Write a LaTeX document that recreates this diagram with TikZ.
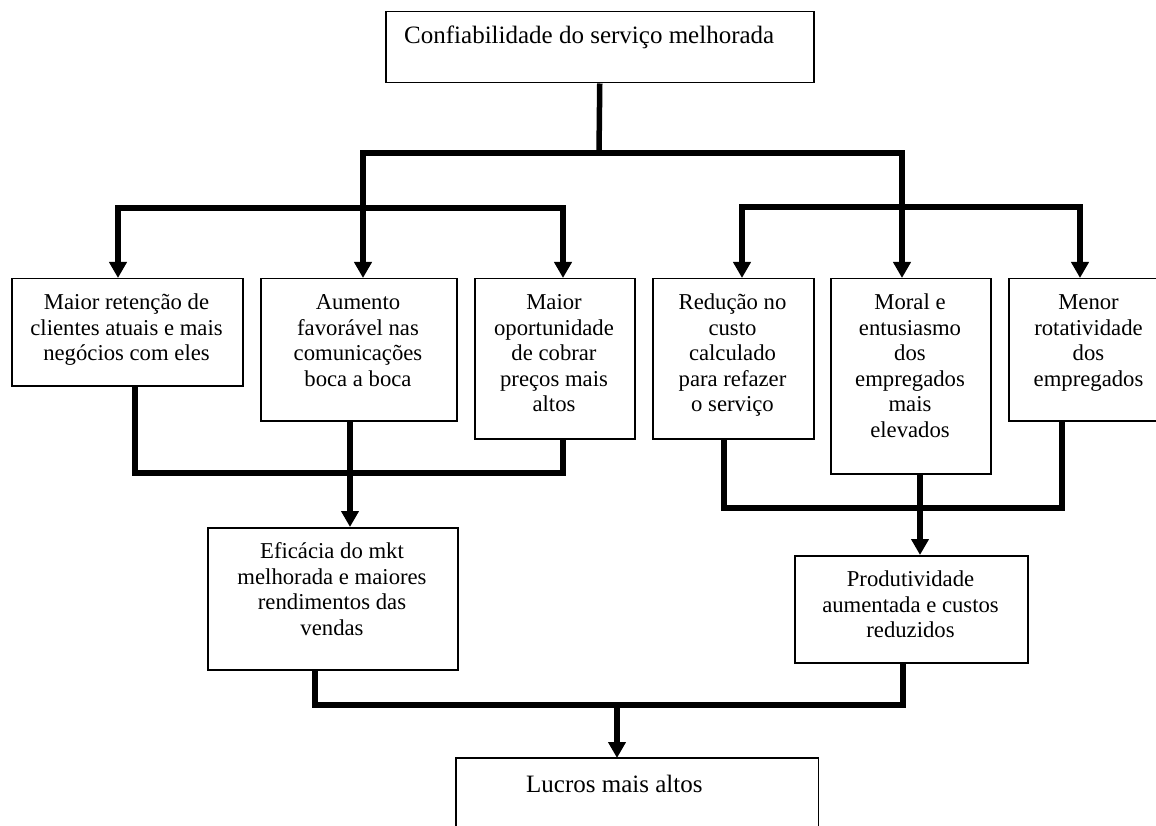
\documentclass[tikz,border=0pt]{standalone}
\usepackage{fontspec}
\setmainfont{Liberation Serif}
\usetikzlibrary{arrows.meta}
\begin{document}
\begin{tikzpicture}[x=1pt,y=-1pt,
  box/.style={draw, line width=1.5pt, inner sep=0pt, anchor=north west},
  openbox/.style={inner sep=0pt, anchor=north west},
  txt/.style={font=\fontsize{22.7}{25.5}\selectfont, align=center, inner sep=0pt, anchor=north},
  bigtxt/.style={font=\fontsize{25}{28}\selectfont, inner sep=0pt, anchor=base west},
  conn/.style={line width=5.5pt, line join=miter},
  arr/.style={conn, -{Triangle[width=17pt,length=16pt]}},
  darr/.style={conn, {Triangle[width=17pt,length=16pt]}-{Triangle[width=17pt,length=16pt]}}
]
\useasboundingbox (0,0) rectangle (1156,826);
\fill[white] (0,0) rectangle (1156,826);

% top box
\node[box, minimum width=428pt, minimum height=71pt] (T) at (385,11) {};
\node[bigtxt] (Tt) at (404,44) {Confiabilidade do serviço melhorada};

% row of boxes
\node[box, minimum width=231pt, minimum height=107pt] (B1) at (11,278) {};
\node[box, minimum width=196pt, minimum height=142pt] (B2) at (260,278) {};
\node[box, minimum width=160pt, minimum height=160pt] (B3) at (474,278) {};
\node[box, minimum width=161pt, minimum height=160pt] (B4) at (652,278) {};
\node[box, minimum width=160pt, minimum height=195pt] (B5) at (830,278) {};
\node[box, minimum width=162pt, minimum height=142pt] (B6) at (1008,278) {};

\node[txt] (B1t) at (126.5,291.5) {\strut Maior retenção de\\clientes atuais e mais\\negócios com eles};
\node[txt] (B2t) at (358,291.5) {\strut Aumento\\favorável nas\\comunicações\\boca a boca};
\node[txt] (B3t) at (554,291.5) {\strut Maior\\oportunidade\\de cobrar\\preços mais\\altos};
\node[txt] (B4t) at (732.5,291.5) {\strut Redução no\\custo\\calculado\\para refazer\\o serviço};
\node[txt] (B5t) at (910,291.5) {\strut Moral e\\entusiasmo\\dos\\empregados\\mais\\elevados};
\node[txt] (B6t) at (1088.5,291.5) {\strut Menor\\rotatividade\\dos\\empregados};

% second level
\node[box, minimum width=250pt, minimum height=142pt] (E) at (207,527) {};
\node[txt] (Et) at (332,540.5) {\strut Eficácia do mkt\\melhorada e maiores\\rendimentos das\\vendas};
\node[box, minimum width=233pt, minimum height=107pt] (P) at (794,555) {};
\node[txt] (Pt) at (910.5,568.5) {\strut Produtividade\\aumentada e custos\\reduzidos};

% bottom box (bottom edge off the page)
\node[openbox, minimum width=362pt, minimum height=90pt] (L) at (456,758) {};
\draw[line width=1.5pt] (L.south west) -- (L.north west) -- (L.north east) -- (L.south east);
\node[bigtxt] (Lt) at (526,792) {Lucros mais altos};

% junction coordinates
\coordinate (j0) at (599,153);
\coordinate (jL) at (363,153);
\coordinate (jR) at (902,153);
\coordinate (aL) at (118,208);
\coordinate (aR) at (563,208);
\coordinate (bL) at (742,207);
\coordinate (bR) at (1080,207);
\coordinate (ka) at (135,473);
\coordinate (kb) at (563,473);
\coordinate (m1) at (350,473);
\coordinate (kc) at (724,508);
\coordinate (kd) at (1062,508);
\coordinate (m2) at (920,508);
\coordinate (ke) at (315,705);
\coordinate (kf) at (903,705);
\coordinate (m3) at (617,705);

% top connectors
\draw[conn] (T.south) -- (j0);
\draw[darr] (jL |- B2.north) -- (jL) -- (jR) -- (jR |- B5.north);
\draw[darr] (aL |- B1.north) -- (aL) -- (aR) -- (aR |- B3.north);
\draw[darr] (bL |- B4.north) -- (bL) -- (bR) -- (bR |- B6.north);

% middle connectors
\draw[conn] (ka |- B1.south) -- (ka) -- (kb) -- (kb |- B3.south);
\draw[arr] (m1 |- B2.south) -- (m1 |- E.north);
\draw[conn] (kc |- B4.south) -- (kc) -- (kd) -- (kd |- B6.south);
\draw[arr] (m2 |- B5.south) -- (m2 |- P.north);

% bottom connectors
\draw[conn] (ke |- E.south) -- (ke) -- (kf) -- (kf |- P.south);
\draw[arr] (m3) -- (m3 |- L.north);
\end{tikzpicture}
\end{document}
